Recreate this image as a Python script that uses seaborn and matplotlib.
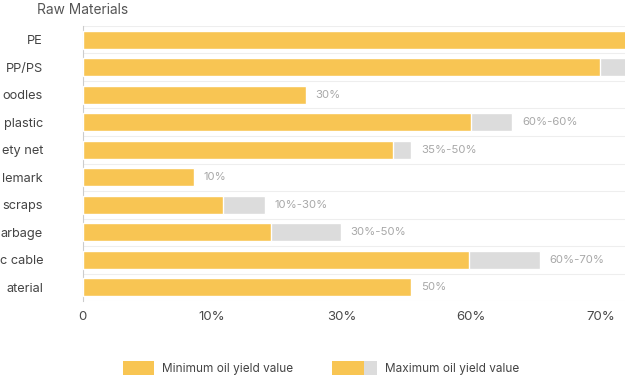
import matplotlib
matplotlib.use('Agg')
import matplotlib.pyplot as plt
from matplotlib.patches import Rectangle
import pandas as pd
import seaborn as sns

# Data (bar lengths on the drawn axis, labels as printed).
# Category names are cut at the left edge of the reference; kept as shown there.
materials = ['PE', 'PP/PS', 'oodles', 'plastic', 'ety net', 'lemark',
             'scraps', 'arbage', 'c cable', 'aterial']
min_yield = [88, 80.0, 34.5, 60.0, 47.9, 17.2, 21.7, 29.1, 59.7, 50.8]
max_yield = [95, 90.0, 34.5, 66.4, 50.8, 17.2, 28.2, 39.9, 70.6, 50.8]
bar_text = ['', '', '30%', '60%-60%', '35%-50%', '10%', '10%-30%', '30%-50%', '60%-70%', '50%']
tick_pos = [0, 20, 40, 60, 80]
tick_text = ['0', '10%', '30%', '60%', '70%']

YELLOW = '#F8C553'
GREY = '#DCDCDC'

df = pd.DataFrame({'material': materials, 'min': min_yield, 'max': max_yield})


class SwatchHandler:
    """Legend swatch: a yellow block, optionally followed by a grey block (sizes in points)."""
    def __init__(self, yellow_w, grey_w=0):
        self.yellow_w = yellow_w
        self.grey_w = grey_w

    def legend_artist(self, legend, orig_handle, fontsize, handlebox):
        h = 10
        handlebox.width = self.yellow_w + self.grey_w
        y0 = handlebox.height / 2 - h / 2 - handlebox.ydescent
        handlebox.add_artist(Rectangle((0, y0), self.yellow_w, h, facecolor=YELLOW,
                                       edgecolor='none', transform=handlebox.get_transform()))
        if self.grey_w:
            handlebox.add_artist(Rectangle((self.yellow_w, y0), self.grey_w, h, facecolor=GREY,
                                           edgecolor='none', transform=handlebox.get_transform()))
        return handlebox


sns.set_style('white')
plt.rcParams['font.family'] = ['Inter', 'DejaVu Sans']

fig = plt.figure(figsize=(6.25, 3.75), dpi=100)
ax = fig.add_axes([0.132, 0.197, 0.868, 0.734])

sns.barplot(data=df, y='material', x='max', color=GREY, orient='h', width=0.65,
            saturation=1, ax=ax, zorder=2)
sns.barplot(data=df, y='material', x='min', color=YELLOW, orient='h', width=0.65,
            saturation=1, ax=ax, zorder=3)

# Value labels after the end of each bar
for i, txt in enumerate(bar_text):
    if txt:
        ax.text(max_yield[i] + 1.5, i, txt, va='center', ha='left',
                fontsize=8.2, color='#a8a8a8')

ax.set_xlim(0, 83.8)
ax.set_ylim(len(materials) - 0.5, -0.5)
ax.set_xticks(tick_pos)
ax.set_xticklabels(tick_text, fontsize=9.5, color='#4a4a4a')
ax.tick_params(axis='x', length=0, pad=7)
ax.tick_params(axis='y', which='major', length=0, pad=28.4, labelsize=9.2, labelcolor='#444444')

# Row separators + small ticks on the category axis
bounds = [i - 0.5 for i in range(len(materials) + 1)]
ax.set_yticks(bounds, minor=True)
ax.tick_params(axis='y', which='minor', length=3, color='#cccccc', width=0.8)
for b in bounds:
    ax.axhline(b, color='#eeeeee', linewidth=0.8, zorder=1)

sns.despine(ax=ax, top=True, right=True, bottom=True, left=False)
ax.spines['left'].set_color('#cccccc')
ax.spines['left'].set_linewidth(0.8)
ax.set_xlabel('')
ax.set_ylabel('')

fig.text(0.059, 0.972, 'Raw Materials', fontsize=9.9, color='#555555', va='center', ha='left')

h_min, h_max = object(), object()
fig.legend([h_min, h_max], ['Minimum oil yield value', 'Maximum oil yield value'],
           handler_map={h_min: SwatchHandler(22.3), h_max: SwatchHandler(23.0, 9.4)},
           loc='center', bbox_to_anchor=(0.514, 0.016), ncol=2, frameon=False,
           fontsize=8.5, handlelength=2.6, handletextpad=0.7, columnspacing=3.3,
           labelcolor='#444444', borderpad=0, borderaxespad=0)

fig.savefig('out.png', dpi=100)
